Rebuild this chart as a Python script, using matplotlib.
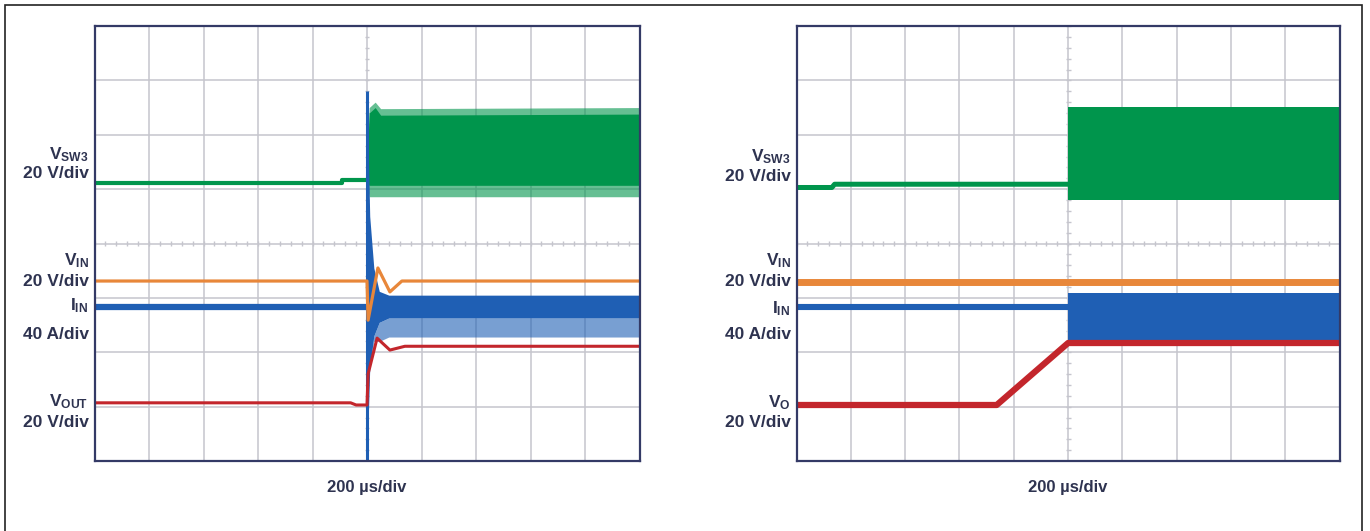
import matplotlib
matplotlib.use('Agg')
import matplotlib.pyplot as plt
import matplotlib.transforms as mtransforms
from matplotlib.patches import Rectangle
import numpy as np

plt.rcParams['font.family'] = ['Liberation Sans', 'DejaVu Sans']
plt.rcParams['mathtext.fontset'] = 'custom'
plt.rcParams['mathtext.bf'] = 'Liberation Sans:bold'
plt.rcParams['mathtext.rm'] = 'Liberation Sans'

# time in us (200 us/div, trigger at 0), level in scope divisions (0..8)

# --- left capture: start-up ---
l_sw_t = [-1000, -92, -92, 0]
l_sw_v = [5.11, 5.11, 5.17, 5.17]
l_sw_band_t = [0, 8, 30, 50, 1000]
l_sw_band_hi = [5.4, 6.40, 6.50, 6.36, 6.38]
l_sw_band_lo = [5.1, 5.07, 5.07, 5.07, 5.07]
l_sw_tip_hi = [5.4, 6.50, 6.60, 6.48, 6.50]
l_sw_tip_lo = [5.1, 4.86, 4.86, 4.86, 4.86]

l_vin_t = [-1000, 0, 4, 40, 84, 128, 1000]
l_vin_v = [3.31, 3.31, 2.59, 3.55, 3.11, 3.31, 3.31]

l_iin_t = [-1000, 0]
l_iin_v = [2.83, 2.83]
l_iin_spike = [0.0, 6.8]
l_iin_band_t = [0, 10, 25, 45, 80, 1000]
l_iin_band_hi = [6.8, 4.5, 3.55, 3.12, 3.05, 3.05]
l_iin_band_lo = [0.0, 1.7, 2.3, 2.55, 2.63, 2.63]
l_iin_tip_lo = [0.0, 1.7, 2.2, 2.2, 2.28, 2.28]

l_vout_t = [-1000, -60, -40, 0, 4, 37, 84, 139, 1000]
l_vout_v = [1.07, 1.07, 1.03, 1.03, 1.6, 2.26, 2.04, 2.11, 2.11]

# --- right capture: soft-start ---
r_sw_t = [-1000, -870, -860, 0]
r_sw_v = [5.03, 5.03, 5.09, 5.09]
r_sw_band_t = [0, 1000]
r_sw_band_hi = [6.51, 6.51]
r_sw_band_lo = [4.80, 4.80]

r_vin_t = [-1000, 1000]
r_vin_v = [3.29, 3.29]

r_iin_t = [-1000, 0]
r_iin_v = [2.83, 2.83]
r_iin_band_t = [0, 1000]
r_iin_band_hi = [3.09, 3.09]
r_iin_band_lo = [2.22, 2.22]

r_vo_t = [-1000, -263, 0, 1000]
r_vo_v = [1.03, 1.03, 2.17, 2.17]

left_labels = [(r'$\mathbf{V_{SW3}}$', 5.64), ('20 V/div', 5.28),
               (r'$\mathbf{V_{IN}}$', 3.68), ('20 V/div', 3.31),
               (r'$\mathbf{I_{IN}}$', 2.85), ('40 A/div', 2.33),
               (r'$\mathbf{V_{OUT}}$', 1.10), ('20 V/div', 0.70)]
right_labels = [(r'$\mathbf{V_{SW3}}$', 5.59), ('20 V/div', 5.24),
                (r'$\mathbf{V_{IN}}$', 3.68), ('20 V/div', 3.31),
                (r'$\mathbf{I_{IN}}$', 2.80), ('40 A/div', 2.33),
                (r'$\mathbf{V_{O}}$', 1.07), ('20 V/div', 0.70)]

GREEN = '#00954c'
ORANGE = '#e8873a'
BLUE = '#1f5fb4'
RED = '#c3262c'
GRID = '#c5c5cd'
NAVY = '#343a66'
TXT = '#2e3350'


def graticule(ax):
    ax.set_xlim(-1000, 1000)
    ax.set_ylim(0, 8)
    for x in range(-800, 1000, 200):
        ax.axvline(x, color=GRID, lw=1.1, zorder=0)
    for y in range(1, 8):
        ax.axhline(y, color=GRID, lw=1.1, zorder=0)
    ax.vlines(np.arange(-1000, 1001, 40), 4 - 0.045, 4 + 0.045, color=GRID, lw=1.0, zorder=0)
    ax.hlines(np.arange(0, 8.01, 0.2), -9, 9, color=GRID, lw=1.0, zorder=0)
    ax.set_xticks([])
    ax.set_yticks([])
    for s in ax.spines.values():
        s.set_color(NAVY)
        s.set_linewidth(1.6)
    ax.set_xlabel('200 µs/div', fontsize=12, fontweight='bold', color=TXT, labelpad=14)


def labels(ax, items):
    tr = mtransforms.blended_transform_factory(ax.transAxes, ax.transData)
    for s, y in items:
        ax.text(-0.011, y, s, transform=tr, ha='right', va='center',
                fontsize=12.5, fontweight='bold', color=TXT)


fig = plt.figure(figsize=(13.7, 5.31), dpi=100)
fig.patches.append(Rectangle((5 / 1370, -0.05), 1357 / 1370, 1.05 - 5 / 531,
                             transform=fig.transFigure, fill=False,
                             edgecolor='#222222', lw=1.2))

ax1 = fig.add_axes([94.5 / 1370, 70 / 531, 545 / 1370, 435 / 531])
ax2 = fig.add_axes([796.6 / 1370, 70 / 531, 543 / 1370, 435 / 531])
for ax in (ax1, ax2):
    graticule(ax)

# left
ax1.plot(l_sw_t, l_sw_v, color=GREEN, lw=3.0)
ax1.fill_between(l_sw_band_t, l_sw_tip_lo, l_sw_tip_hi, color=GREEN, alpha=0.6, lw=0)
ax1.fill_between(l_sw_band_t, l_sw_band_lo, l_sw_band_hi, color=GREEN, lw=0)
ax1.plot(l_iin_t, l_iin_v, color=BLUE, lw=4.5)
ax1.fill_between(l_iin_band_t, l_iin_tip_lo, l_iin_band_lo, color=BLUE, alpha=0.6, lw=0)
ax1.fill_between(l_iin_band_t, l_iin_band_lo, l_iin_band_hi, color=BLUE, lw=0)
ax1.vlines(0, l_iin_spike[0], l_iin_spike[1], color=BLUE, lw=2.2)
ax1.plot(l_vin_t, l_vin_v, color=ORANGE, lw=2.3)
ax1.plot(l_vout_t, l_vout_v, color=RED, lw=2.2)
labels(ax1, left_labels)

# right
ax2.plot(r_sw_t, r_sw_v, color=GREEN, lw=3.6)
ax2.fill_between(r_sw_band_t, r_sw_band_lo, r_sw_band_hi, color=GREEN, lw=0)
ax2.plot(r_iin_t, r_iin_v, color=BLUE, lw=4.4)
ax2.fill_between(r_iin_band_t, r_iin_band_lo, r_iin_band_hi, color=BLUE, lw=0)
ax2.plot(r_vin_t, r_vin_v, color=ORANGE, lw=5.0)
ax2.plot(r_vo_t, r_vo_v, color=RED, lw=4.5)
labels(ax2, right_labels)

fig.savefig('out.png', dpi=100)
